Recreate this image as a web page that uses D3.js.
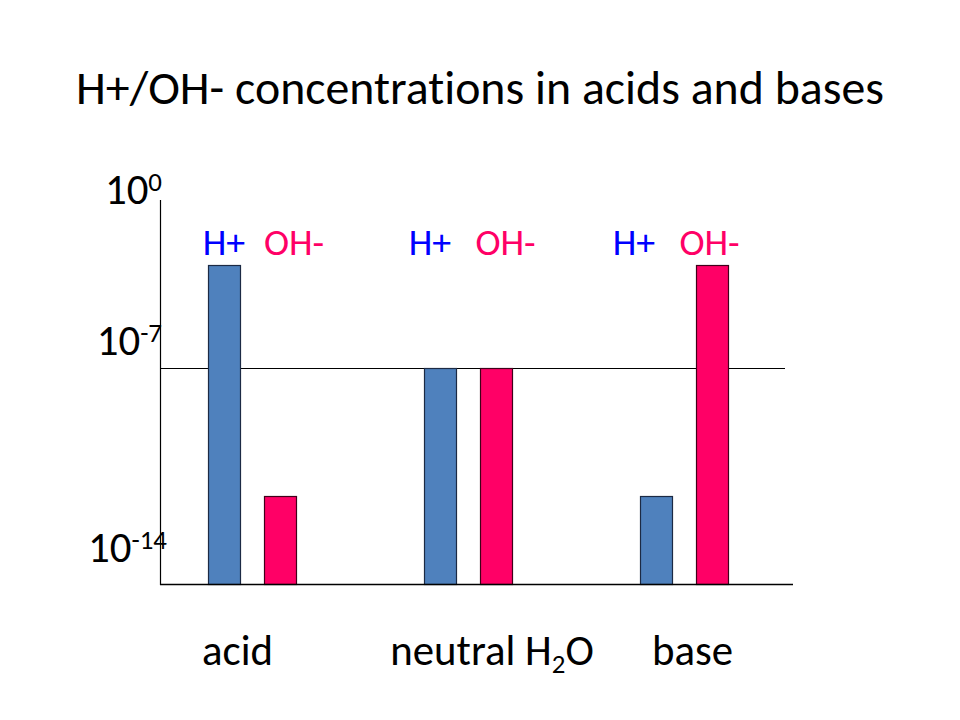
<!DOCTYPE html>
<html>
<head>
<meta charset="utf-8">
<script src="https://cdn.jsdelivr.net/npm/d3@7"></script>
<style>
  html, body { margin: 0; padding: 0; background: #fff; }
  svg { display: block; }
  text { font-family: Carlito, Calibri, Lato, "Open Sans", sans-serif; font-variant-ligatures: none; font-feature-settings: "liga" 0, "clig" 0; }
</style>
</head>
<body>
<script>
// ---- data ----
const titleText = "H+/OH- concentrations in acids and bases";
const categories = ["acid", "neutral H2O", "base"];
const seriesNames = ["H+", "OH-"];
// concentrations as log10 exponents (10^x)
const hPlusExp = [-3.65, -7, -11.15];
const ohMinusExp = [-11.15, -7, -3.65];
const yTickExps = [0, -7, -14];
const refLineExp = -7;

const fills = { "H+": "#4F81BD", "OH-": "#FF0066" };
const strokes = { "H+": "#1c2a44", "OH-": "#40001a" };
const labelColors = { "H+": "#0000FF", "OH-": "#FF0066" };

const W = 960, H = 720;
const svg = d3.select("body").append("svg").attr("width", W).attr("height", H);

// scales
const axisLeft = 160, axisTop = 200;
const x0 = d3.scaleBand().domain(categories).range([144, 792]).padding(0);
const x1 = d3.scaleBand().domain(seriesNames).range([0, x0.bandwidth()])
  .paddingInner(3 / 7).paddingOuter(8 / 7);
const y = d3.scaleLinear().domain([-14, 0]).range([584, 152]);

const rows = categories.map((c, i) => ({
  cat: c,
  values: [
    { s: "H+", v: hPlusExp[i] },
    { s: "OH-", v: ohMinusExp[i] }
  ]
}));

// title (fit font to Calibri-like width)
const title = svg.append("text")
  .attr("x", W / 2).attr("y", 104)
  .attr("text-anchor", "middle")
  .attr("font-size", 48)
  .attr("fill", "#000")
  .text(titleText);
const measured = title.node().getComputedTextLength();
const k = Math.min(1.1, Math.max(0.85, 808 / measured));
title.attr("font-size", 48 * k);

const fsAxis = 43 * k, fsSeries = 38 * k, fsSup = 27 * k;

// reference line at 10^-7
svg.append("line")
  .attr("x1", axisLeft).attr("x2", 785)
  .attr("y1", Math.round(y(refLineExp)) + 0.5).attr("y2", Math.round(y(refLineExp)) + 0.5)
  .attr("stroke", "#000").attr("stroke-width", 1);

// bars
const g = svg.append("g");
rows.forEach(r => {
  g.selectAll(null).data(r.values).enter().append("rect")
    .attr("x", d => Math.round(x0(r.cat) + x1(d.s)) + 0.5)
    .attr("y", d => Math.round(y(d.v)) + 0.5)
    .attr("width", x1.bandwidth())
    .attr("height", d => Math.round(y(-14)) - Math.round(y(d.v)))
    .attr("fill", d => fills[d.s])
    .attr("stroke", d => strokes[d.s])
    .attr("stroke-width", 1.2);
});

// y axis line and bottom axis line
svg.append("line")
  .attr("x1", axisLeft + 0.5).attr("x2", axisLeft + 0.5)
  .attr("y1", axisTop).attr("y2", y(-14) + 1)
  .attr("stroke", "#000").attr("stroke-width", 1.2);
svg.append("line")
  .attr("x1", axisLeft).attr("x2", x0.range()[1] + 1)
  .attr("y1", y(-14) + 0.5).attr("y2", y(-14) + 0.5)
  .attr("stroke", "#000").attr("stroke-width", 1.5);

// y tick labels 10^n
const tickBaseline = { "0": axisTop + 4, "-7": y(-7) - 13, "-14": y(-14) - 22 };
const tickEndDx = { "0": 2, "-7": 2, "-14": 7 };
yTickExps.forEach(e => {
  const t = svg.append("text")
    .attr("x", axisLeft + tickEndDx[String(e)])
    .attr("y", tickBaseline[String(e)])
    .attr("text-anchor", "end")
    .attr("font-size", fsAxis)
    .attr("fill", "#000");
  t.append("tspan").text("10");
  t.append("tspan").attr("font-size", fsSup).attr("dy", -13).text(e === 0 ? "0" : String(e));
});

// series labels above groups
const seriesDx = { "H+": [0, -10, -22], "OH-": [14, 9.5, -2.5] };
rows.forEach((r, i) => {
  seriesNames.forEach(s => {
    svg.append("text")
      .attr("x", x0(r.cat) + x1(s) + x1.bandwidth() / 2 + seriesDx[s][i])
      .attr("y", 255)
      .attr("text-anchor", "middle")
      .attr("font-size", fsSeries)
      .attr("fill", labelColors[s])
      .text(s);
  });
});

// category labels
const catDx = [-14.5, 24, 8.5];
categories.forEach((c, i) => {
  const t = svg.append("text")
    .attr("x", x0(c) + x0.bandwidth() / 2 + catDx[i])
    .attr("y", 665)
    .attr("text-anchor", "middle")
    .attr("font-size", fsAxis)
    .attr("fill", "#000");
  const m = c.match(/^(.*H)2(O)$/);
  if (m) {
    t.append("tspan").text(m[1]);
    t.append("tspan").attr("font-size", fsSup).attr("dy", 8).text("2");
    t.append("tspan").attr("dy", -8).text(m[2]);
  } else {
    t.text(c);
  }
});
</script>
</body>
</html>
